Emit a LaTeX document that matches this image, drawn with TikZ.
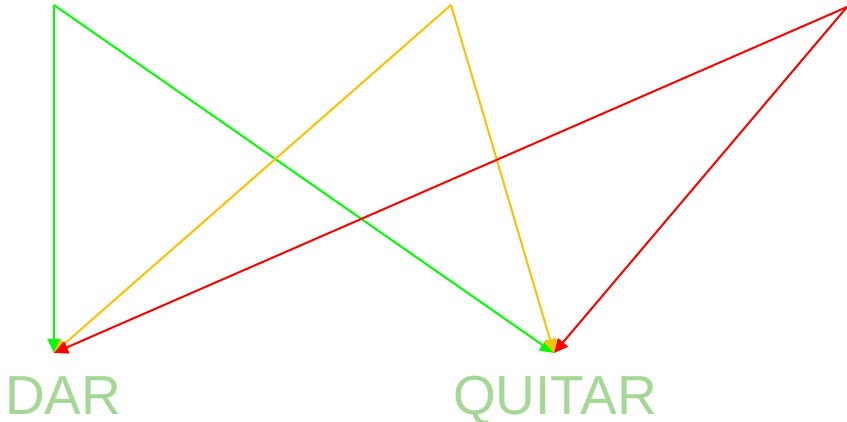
\documentclass[tikz,border=0pt]{standalone}
\usepackage{fontspec}
\setmainfont{Liberation Sans}
\usetikzlibrary{arrows.meta}
\definecolor{lbl}{RGB}{165,216,150}
\definecolor{cgreen}{RGB}{0,255,0}
\definecolor{cyellow}{RGB}{255,192,0}
\definecolor{cred}{RGB}{255,0,0}
\begin{document}
\begin{tikzpicture}[x=1pt,y=-1pt,
  link/.style={line width=2pt,-{Triangle[length=14pt,width=13pt]}},
  lab/.style={anchor=base west,inner sep=0pt,text=lbl,font=\fontsize{55}{55}\selectfont}]
\useasboundingbox (0,0) rectangle (847,422);
\coordinate (s1) at (54,5);
\coordinate (s2) at (451,5);
\coordinate (s3) at (847,7);
\coordinate (dar) at (54,353);
\coordinate (quitar) at (554,353);
\draw[link,cgreen] (s1) -- (dar);
\draw[link,cgreen] (s1) -- (quitar);
\draw[link,cyellow] (s2) -- (dar);
\draw[link,cyellow] (s2) -- (quitar);
\draw[link,cred] (s3) -- (dar);
\draw[link,cred] (s3) -- (quitar);
\node[lab] (ldar) at (5,414) {DAR};
\node[lab] (lquitar) at (453,414) {QUITAR};
\end{tikzpicture}
\end{document}
